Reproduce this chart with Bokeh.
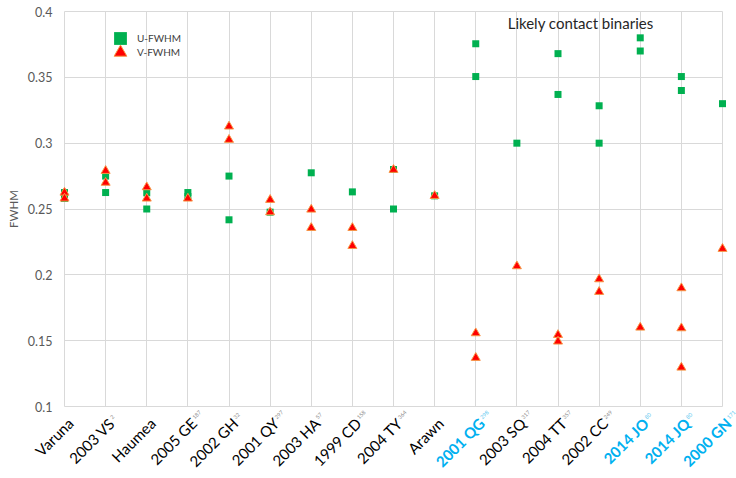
import math
from bokeh.plotting import figure
from bokeh.models import (Range1d, FixedTicker, CustomJSTickFormatter, ColumnDataSource, Label,
                          Legend, LegendItem)
from bokeh.core.properties import value
from bokeh.embed import file_html
from bokeh.resources import INLINE

# ---- data ----
object_names = ["Varuna", "2003 VS", "Haumea", "2005 GE", "2002 GH", "2001 QY", "2003 HA",
                "1999 CD", "2004 TY", "Arawn", "2001 QG", "2003 SQ", "2004 TT", "2002 CC",
                "2014 JO", "2014 JQ", "2000 GN"]
object_subs = ["", "2", "", "187", "32", "297", "57", "158", "364", "", "298", "317", "357",
               "249", "80", "80", "171"]
contact_binary = [False, False, False, False, False, False, False, False, False, False,
                  True, False, False, False, True, True, True]

u_fwhm = [[0.2625, 0.258], [0.275, 0.2625], [0.2623, 0.250], [0.2625, 0.2595],
          [0.275, 0.2418], [0.2476], [0.2775], [0.263], [0.280, 0.250], [0.260],
          [0.3755, 0.3506], [0.300], [0.368, 0.337], [0.3284, 0.300], [0.380, 0.370],
          [0.3506, 0.340], [0.330]]
v_fwhm = [[0.2625, 0.258], [0.279, 0.270], [0.2666, 0.258], [0.258],
          [0.3127, 0.3026], [0.257, 0.2476], [0.2496, 0.2357], [0.2357, 0.222], [0.2798],
          [0.260], [0.1557, 0.137], [0.2066], [0.1544, 0.1494], [0.1967, 0.1871], [0.160],
          [0.1899, 0.1595, 0.1296], [0.2198]]

y_ticks = [0.1, 0.15, 0.2, 0.25, 0.3, 0.35, 0.4]
title_text = "Likely contact binaries"

# ---- flatten ----
ux, uy, vx, vy = [], [], [], []
for i, vals in enumerate(u_fwhm):
    for v in vals:
        ux.append(i); uy.append(v)
for i, vals in enumerate(v_fwhm):
    for v in vals:
        vx.append(i); vy.append(v)

n = len(object_names)
FONT = "Lato"
GRID = "#D9D9D9"

p = figure(width=736, height=478, output_backend="svg", toolbar_location=None,
           x_range=Range1d(0, n - 1), y_range=Range1d(y_ticks[0], y_ticks[-1]),
           min_border_left=64, min_border_right=14, min_border_top=11, min_border_bottom=72)
p.title.visible = False
p.outline_line_color = GRID
p.background_fill_color = "white"
p.border_fill_color = "white"

p.xaxis.visible = False
p.xgrid.ticker = FixedTicker(ticks=list(range(n)))
p.xgrid.grid_line_color = GRID
p.ygrid.grid_line_color = GRID

yax = p.yaxis[0]
yax.ticker = FixedTicker(ticks=y_ticks)
p.ygrid.ticker = FixedTicker(ticks=y_ticks)
yax.formatter = CustomJSTickFormatter(code="return tick.toFixed(2).replace(/0$/, '')")
yax.axis_line_color = None
yax.major_tick_line_color = None
yax.minor_tick_line_color = None
yax.major_tick_out = 0
yax.major_tick_in = 0
yax.minor_tick_out = 0
yax.minor_tick_in = 0
yax.major_label_standoff = 12
yax.major_label_text_font = FONT
yax.major_label_text_font_size = "12.5px"
yax.major_label_text_color = "#595959"
yax.axis_label = "FWHM"
yax.axis_label_text_font = FONT
yax.axis_label_text_font_size = "11.5px"
yax.axis_label_text_font_style = "normal"
yax.axis_label_text_color = "#595959"
yax.axis_label_standoff = 5

# ---- data markers ----
ru = p.scatter(ux, uy, marker="square", size=7, fill_color="#00B050", line_color=None,
               level="overlay")
rv = p.scatter(vx, vy, marker="triangle", size=9, fill_color="#FF0000", line_color="#F79646",
               line_width=1, level="overlay")

# ---- category labels (rotated 45 degrees, coloured) ----
lbl = ColumnDataSource(dict(
    x=list(range(n)),
    y=[y_ticks[0]] * n,
    main=object_names,
    sub=object_subs,
    color=["#00B0F0" if c else "#000000" for c in contact_binary],
    subcolor=["#5CC8F0" if c else "#8C8C8C" for c in contact_binary],
    style=["bold" if c else "normal" for c in contact_binary],
))
p.text(x="x", y="y", text="main", source=lbl, angle=45, angle_units="deg",
       text_align="right", text_baseline="middle", x_offset=6, y_offset=14,
       text_font=value(FONT), text_font_size="15px", text_color="color",
       text_font_style="style", level="overlay")
p.text(x="x", y="y", text="sub", source=lbl, angle=45, angle_units="deg",
       text_align="left", text_baseline="middle", x_offset=5.4, y_offset=11.6,
       text_font=value(FONT), text_font_size="5.5px", text_color="subcolor", level="overlay")

p.add_layout(Label(x=12.55, y=0.391, text=title_text, text_align="center",
                   text_baseline="middle", text_font=FONT, text_font_size="15px",
                   text_color="#262626"))

# ---- legend (two single-item legends so the rows can sit close together) ----
def make_legend(label, renderer, loc):
    lg = Legend(items=[LegendItem(label=label, renderers=[renderer])], location=loc,
                padding=0, margin=0, spacing=0, glyph_width=32, glyph_height=32,
                label_standoff=1, label_text_font=FONT, label_text_font_size="10px",
                label_text_color="#404040", border_line_color=None,
                background_fill_alpha=0)
    p.add_layout(lg, "center")

make_legend("U-FWHM", ru, (40, 352))
make_legend("V-FWHM", rv, (40, 338))

open("out.html", "w").write(file_html(p, INLINE))
